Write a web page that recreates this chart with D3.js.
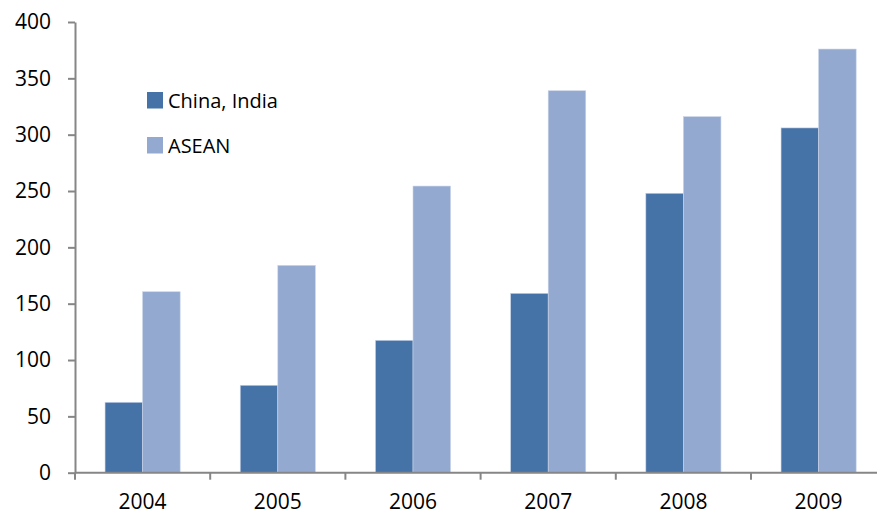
<!DOCTYPE html>
<html>
<head>
<meta charset="utf-8">
<script src="https://cdn.jsdelivr.net/npm/d3@7"></script>
<style>
  html, body { margin: 0; padding: 0; background: #fff; }
  svg { display: block; }
  text { font-family: "Open Sans", "Noto Sans", sans-serif; fill: #000; }
</style>
</head>
<body>
<svg id="chart" width="877" height="516"></svg>
<script>
// Annual values by region group
const years = ["2004", "2005", "2006", "2007", "2008", "2009"];
const seriesNames = ["China, India", "ASEAN"];
const chinaIndia = [62.5, 77.6, 117.5, 159.2, 248, 306];
const asean = [160.6, 184, 254.4, 339, 316, 376];
const yTicks = [0, 50, 100, 150, 200, 250, 300, 350, 400];
const colors = ["#4572A7", "#94A9D0"];

const svg = d3.select("#chart");
const plotLeft = 75, plotTop = 22, plotBottom = 472.7, step = 135.2;

const x = d3.scaleBand().domain(years).range([plotLeft, plotLeft + step * years.length]).padding(0);
const xs = d3.scaleBand().domain(seriesNames).range([0, x.bandwidth()]).paddingInner(0).paddingOuter(0.8);
const y = d3.scaleLinear().domain([0, 400]).range([plotBottom, plotTop]);

const rows = years.map((yr, i) => ({ year: yr, values: [chinaIndia[i], asean[i]] }));

// Bars
const groups = svg.append("g").selectAll("g").data(rows).join("g")
  .attr("transform", d => `translate(${x(d.year)},0)`);
groups.selectAll("rect")
  .data(d => d.values.map((v, k) => ({ name: seriesNames[k], v, k })))
  .join("rect")
  .attr("x", d => xs(d.name))
  .attr("width", xs.bandwidth())
  .attr("y", d => y(d.v))
  .attr("height", d => y(0) - y(d.v))
  .attr("fill", d => colors[d.k])
  .attr("stroke", "#c9d4e8")
  .attr("stroke-width", 0.6);

// Y axis
const yAxis = svg.append("g")
  .attr("transform", `translate(${plotLeft},0)`)
  .call(d3.axisLeft(y).tickValues(yTicks).tickSize(7).tickSizeOuter(0).tickPadding(17));
yAxis.select(".domain").attr("stroke", "#868686").attr("stroke-width", 2);
yAxis.selectAll(".tick line").attr("stroke", "#868686").attr("stroke-width", 2);
yAxis.selectAll(".tick text").attr("font-size", 21).attr("fill", "#000")
  .attr("font-family", "Open Sans");

// X axis line with boundary ticks between categories
const xAxis = svg.append("g");
xAxis.append("line")
  .attr("x1", plotLeft).attr("x2", 877)
  .attr("y1", y(0)).attr("y2", y(0))
  .attr("stroke", "#868686").attr("stroke-width", 2);
xAxis.selectAll("line.tk").data(years).join("line").attr("class", "tk")
  .attr("x1", d => x(d)).attr("x2", d => x(d))
  .attr("y1", y(0)).attr("y2", y(0) + 7)
  .attr("stroke", "#868686").attr("stroke-width", 2);
xAxis.selectAll("text").data(years).join("text")
  .attr("x", d => x(d) + x.bandwidth() / 2)
  .attr("y", 509)
  .attr("text-anchor", "middle")
  .attr("font-size", 21)
  .text(d => d);

// Legend
const legend = svg.append("g").selectAll("g").data(seriesNames).join("g")
  .attr("transform", (d, i) => `translate(147,${92 + i * 45})`);
legend.append("rect").attr("width", 16).attr("height", 16.5).attr("fill", (d, i) => colors[i]);
legend.append("text").attr("x", 21).attr("y", 15.5).attr("font-size", 20).text(d => d);
</script>
</body>
</html>
